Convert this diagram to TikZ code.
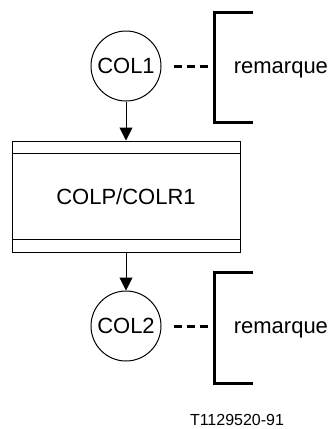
\documentclass[tikz,border=0pt]{standalone}
\usepackage{fontspec}
\setmainfont{Liberation Sans}
\usetikzlibrary{arrows.meta}
\tikzset{etat/.style={circle, draw, minimum size=70pt, inner sep=0pt},
  tache/.style={rectangle, draw, minimum width=228pt, minimum height=111pt},
  fleche/.style={-{Triangle[length=13pt, width=13pt]}},
  crochet/.style={line width=3pt},
  tirets/.style={line width=3pt, dash pattern=on 8pt off 5pt, shorten <=12pt}}

\begin{document}
\begin{tikzpicture}[x=1pt, y=-1pt, line width=1pt, font=\fontsize{22}{26}\selectfont]
  \useasboundingbox (0,0) rectangle (331,429);
  \node[etat] (col1) at (126,66) {COL1};
  \node[tache] (colp) at (126,196.5) {COLP/COLR1};
  \node[etat] (col2) at (126,326) {COL2};
  \draw ([yshift=-13pt]colp.north west) -- ([yshift=-13pt]colp.north east);
  \draw ([yshift=13pt]colp.south west) -- ([yshift=13pt]colp.south east);
  \draw[fleche] (col1.south) -- (colp.north);
  \draw[fleche] (colp.south) -- (col2.north);

  % remarques
  \coordinate (b1) at (214,66);
  \draw[crochet] (253,12) -- (214,12) -- (214,122) -- (253,122);
  \draw[tirets] (col1.east) -- (b1);
  \node[anchor=west] (rem1) at (230,70) {remarque};

  \coordinate (b2) at (214,326);
  \draw[crochet] (253,272) -- (214,272) -- (214,383) -- (253,383);
  \draw[tirets] (col2.east) -- (b2);
  \node[anchor=west] (rem2) at (230,330) {remarque};

  \node[font=\fontsize{16}{19}\selectfont] (ref) at (237,420) {T1129520-91};
\end{tikzpicture}
\end{document}
